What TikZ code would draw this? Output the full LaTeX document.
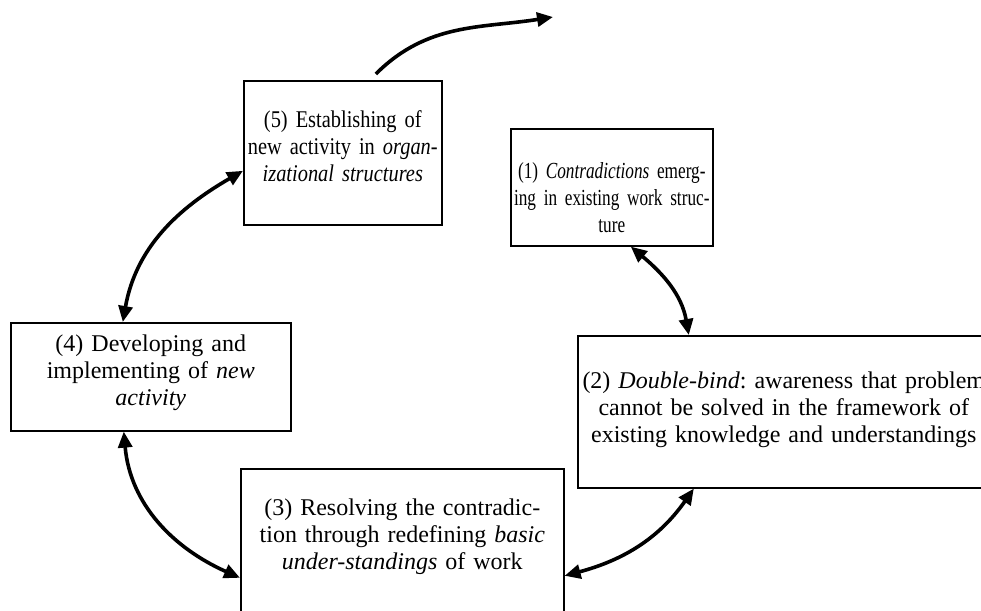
\documentclass[tikz,border=0pt]{standalone}
\usepackage{fontspec}
\setmainfont{Liberation Serif}
\newfontfamily\condserif[FakeStretch=0.75]{Liberation Serif}
\newfontfamily\semicondserif[FakeStretch=0.85]{Liberation Serif}
\usepackage{tikz}
\usetikzlibrary{arrows.meta,positioning,calc}
\frenchspacing
\newcommand{\stagefont}{\fontsize{12}{13.3}\selectfont}
\tikzset{
  stagebox/.style={rectangle,draw=black,line width=0.8pt,anchor=north west,inner sep=0pt,align=center,font=\stagefont},
  cyclelink/.style={{Triangle[length=8pt,width=7pt]}-{Triangle[length=8pt,width=7pt]},line width=1.8pt},
  exitlink/.style={-{Triangle[length=8pt,width=7pt]},line width=1.8pt},
}

\begin{document}
\begin{tikzpicture}[x=0.5pt,y=0.5pt]
  \clip (0,0) rectangle (981,-611);

  % Stages of the cycle
  \node[stagebox, font=\semicondserif\stagefont, text width=105pt, inner xsep=-3pt, text height=23.5pt, text depth=48.5pt] (establish) at (243,-80)
    {(5) Establishing of\\new activity in \emph{organ-}\\\emph{izational structures}};
  \node[stagebox, font=\condserif\fontsize{11.5}{13.3}\selectfont, text width=107pt, inner xsep=-3pt, text height=25pt, text depth=33.5pt] (contra) at (510,-128)
    {(1) \emph{Contradictions} emerg-\\ing in existing work struc-\\ture};
  \node[stagebox, text width=206pt, text height=26.5pt, text depth=49.5pt] (dbind) at (577,-335)
    {(2) \emph{Double-bind}: awareness that problem\\cannot be solved in the framework of\\existing knowledge and understandings};
  \node[stagebox, text width=140pt, text height=14.5pt, text depth=39.5pt] (develop) at (10,-322)
    {(4) Developing and\\implementing of \emph{new}\\\emph{activity}};
  \node[stagebox, text width=161.5pt, text height=23.5pt, text depth=66.5pt] (resolve) at (240,-468)
    {(3) Resolving the contradic-\\tion through redefining \emph{basic}\\\emph{under-standings} of work};

  % Way out of the cycle
  \coordinate (next) at (553,-17);

  % Arrows between stages
  \draw[cyclelink] ([xshift=9.5pt]contra.south) to[out=-40,in=100] ([xshift=-47.5pt]dbind.north);
  \draw[cyclelink] ([yshift=-8.5pt]resolve.east) to[out=15,in=235] ([xshift=-45pt]dbind.south);
  \draw[cyclelink] ([xshift=-13.5pt]develop.south) to[out=-85,in=156] ([yshift=-9.5pt]resolve.west);
  \draw[cyclelink] ([xshift=-14pt]develop.north) to[out=80,in=210] ([yshift=-9pt]establish.west);
  \draw[exitlink] ([xshift=16.5pt,yshift=3pt]establish.north) to[out=45,in=189] (next);
\end{tikzpicture}
\end{document}
